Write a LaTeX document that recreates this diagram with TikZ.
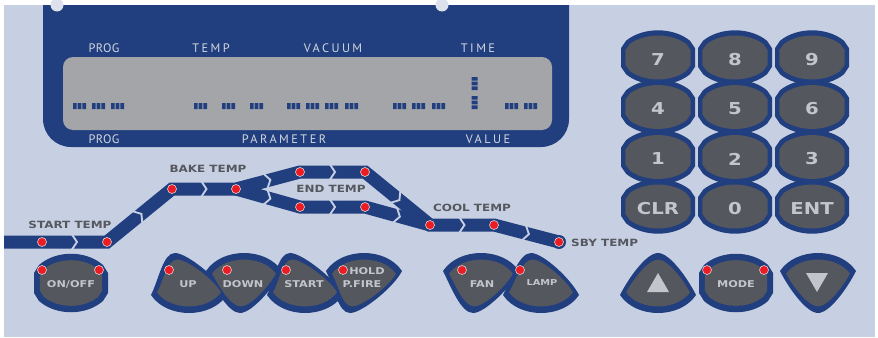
\documentclass[tikz,border=0pt]{standalone}
\usepackage{fontspec}
\usetikzlibrary{backgrounds}
\setmainfont{PT Sans}
\newfontfamily\lcdfont[LetterSpace=20]{PT Sans}
\newfontfamily\lcdtight[LetterSpace=3]{PT Sans}
\newfontfamily\panelfont[FakeStretch=1.2]{DejaVu Sans}

\definecolor{bgpanel}{HTML}{C7D0E3}
\definecolor{panelblue}{HTML}{213F7F}
\definecolor{lcdgray}{HTML}{A4A5A9}
\definecolor{lcdtext}{HTML}{D3D6DE}
\definecolor{keygray}{HTML}{54575D}
\definecolor{keytext}{HTML}{C3C5CA}
\definecolor{pathtext}{HTML}{55585E}
\definecolor{ledred}{HTML}{EC1C24}
\definecolor{ledring}{HTML}{DAD6DA}
\definecolor{notch}{HTML}{DCE1EC}

\begin{document}
\begin{tikzpicture}[
    x=0.03cm, y=-0.03cm,
    lcdlabel/.style={font=\lcdfont\fontsize{10.5pt}{12pt}\selectfont, text=lcdtext, inner sep=0pt},
    proglabel/.style={lcdlabel, font=\lcdtight\fontsize{10.5pt}{12pt}\selectfont},
    steplabel/.style={font=\panelfont\bfseries\fontsize{8.5pt}{10pt}\selectfont, text=pathtext, inner sep=0pt},
    keylabel/.style={font=\panelfont\bfseries\fontsize{14pt}{16pt}\selectfont, text=keytext, inner sep=0pt},
    btnlabel/.style={font=\panelfont\bfseries\fontsize{8pt}{9pt}\selectfont, text=keytext, inner sep=0pt},
    led/.style={circle, fill=ledred, draw=ledring, line width=0.5pt, minimum size=0.27cm, inner sep=0pt},
    band/.style={draw=panelblue, line width=0.39cm, line join=miter},
    chevline/.style={draw=bgpanel, line width=0.055cm, line join=miter},
    outer/.style={fill=panelblue},
    inner/.style={fill=keygray, xscale=.84, yscale=.78},
    pics/keyshape/.style={code={
        \path[pic actions] (-37,-10) -- (-37,10) -- (-32,18) .. controls (-15,33) and (15,33) .. (32,18)
            -- (37,10) -- (37,-10) -- (32,-18) .. controls (15,-33) and (-15,-33) .. (-32,-18) -- cycle;}},
    pics/upshape/.style={code={
        \path[pic actions] (-38,12) .. controls (-30,-4) and (#1-12,-30) .. (#1,-30)
            .. controls (#1+12,-30) and (30,-4) .. (38,12) .. controls (22,36) and (-22,36) .. cycle;}},
    pics/upshape/.default=0,
    pics/downshape/.style={code={
        \path[pic actions] (-38,-12) .. controls (-30,4) and (#1-12,30) .. (#1,30)
            .. controls (#1+12,30) and (30,4) .. (38,-12) .. controls (22,-36) and (-22,-36) .. cycle;}},
    pics/downshape/.default=0,
    pics/segs/.style={code={
        \fill[panelblue] (0,-3) rectangle (3.6,3) (4.7,-3) rectangle (8.3,3) (9.4,-3) rectangle (13,3);}},
    pics/chev/.style={code={\draw[chevline] (-2.5,-7.5) -- (2.5,0) -- (-2.5,7.5);}}
]

% ===== PANEL BACKGROUND =====
\useasboundingbox (0,0) rectangle (878,337);
\begin{scope}[on background layer]
  \fill[white] (0,0) rectangle (878,337);
  \fill[bgpanel] (4,5) rectangle (875,337);
\end{scope}

% ===== DISPLAY =====
\fill[panelblue, rounded corners=0.84cm] (43,-40) rectangle (569,147);
\fill[white] (0,0) rectangle (878,5);
\fill[notch] (57,5) circle (6.5);
\fill[notch] (442,5) circle (6.5);
\fill[lcdgray, rounded corners=0.3cm] (63,57) rectangle (552,130);

% segment groups
\foreach \sx in {73,92,111,194,222,250,287,306,325,345,393,412,432,505,524}
  \pic at (\sx,106) {segs};
\pic[rotate=90] at (474.5,90) {segs};
\pic[rotate=90] at (474.5,109) {segs};

% display labels
\node[proglabel] (prog_top) at (104,48) {PROG};
\node[lcdlabel] (temp_top) at (211,48) {TEMP};
\node[lcdlabel] (vac_top) at (333,48) {VACUUM};
\node[lcdlabel] (time_top) at (478,48) {TIME};
\node[proglabel] (prog_bot) at (104,139) {PROG};
\node[lcdlabel] (param_bot) at (284,139) {PARAMETER};
\node[lcdlabel] (value_bot) at (488,139) {VALUE};

% ===== PROGRAM CURVE =====
\coordinate (s0) at (4,242);
\node[led] (d1) at (42,242) {};
\node[led] (d2) at (107,242) {};
\node[led] (d3) at (172,189) {};
\node[led] (d4) at (236,189) {};
\node[led] (d5) at (300,172) {};
\node[led] (d6) at (300,207) {};
\node[led] (d7) at (365,172) {};
\node[led] (d8) at (365,207) {};
\node[led] (d9) at (430,225) {};
\node[led] (d10) at (494,225) {};
\node[led] (d11) at (559,242) {};

\begin{scope}[on background layer]
  \draw[band] (s0) -- (d1.center) -- (d2.center) -- (d3.center) -- (d4.center) -- (d5.center)
      -- (d7.center) -- (d9.center) -- (d10.center) -- (d11.center);
  \draw[band] (d4.center) -- (d6.center) -- (d8.center) -- (d9.center);
  \fill[panelblue] (d11) circle (7);
  \foreach \a/\b in {d1/d2, d2/d3, d3/d4, d4/d5, d4/d6, d5/d7, d6/d8, d7/d9, d8/d9, d9/d10, d10/d11}
    \path (\a) -- (\b) pic[midway, sloped] {chev};
\end{scope}

\node[steplabel] (start_lbl) at (70,225) {START TEMP};
\node[steplabel] (bake_lbl) at (208,169) {BAKE TEMP};
\node[steplabel] (end_lbl) at (331,189) {END TEMP};
\node[steplabel] (cool_lbl) at (472,208) {COOL TEMP};
\node[steplabel, anchor=west] (sby_lbl) at (571,243) {SBY TEMP};

% ===== KEYPAD =====
\foreach \kx in {658,735,812}
  \foreach \ky in {57.5,107,157,206.5}
    \pic[outer, yscale=.93] at (\kx,\ky) {keyshape};
\foreach \kx in {658,735,812}
  \foreach \ky in {57.5,107,157,206.5}
    \pic[fill=keygray, xscale=.88, yscale=.75] at (\kx,\ky) {keyshape};

\node[keylabel] (k7) at (658,59.5) {7};
\node[keylabel] (k8) at (735,59.5) {8};
\node[keylabel] (k9) at (812,59.5) {9};
\node[keylabel] (k4) at (658,109) {4};
\node[keylabel] (k5) at (735,109) {5};
\node[keylabel] (k6) at (812,109) {6};
\node[keylabel] (k1) at (658,159) {1};
\node[keylabel] (k2) at (735,159) {2};
\node[keylabel] (k3) at (812,159) {3};
\node[keylabel] (kclr) at (658,208.5) {CLR};
\node[keylabel] (k0) at (735,208.5) {0};
\node[keylabel] (kent) at (812,208.5) {ENT};

% ===== BUTTON ROW =====
% outlines first, so neighbouring rims merge
\pic[outer] at (71,283) {keyshape};
\pic[outer] at (189,283) {upshape=-14};
\pic[outer] at (244,283) {downshape=-4};
\pic[outer] at (305,283) {upshape=-15};
\pic[outer] at (364,283) {downshape=-14};
\pic[outer] at (481,283) {downshape=-8};
\pic[outer] at (541,283) {upshape=-10};
\pic[outer] at (658,283) {upshape};
\pic[outer] at (736,283) {keyshape};
\pic[outer] at (818,283) {downshape};

\pic[inner] at (71,283) {keyshape};
\pic[inner] at (189,283) {upshape=-14};
\pic[inner] at (244,283) {downshape=-4};
\pic[inner] at (305,283) {upshape=-15};
\pic[inner] at (364,283) {downshape=-14};
\pic[inner] at (481,283) {downshape=-8};
\pic[inner] at (541,283) {upshape=-10};
\pic[inner] at (658,283) {upshape};
\pic[inner] at (736,283) {keyshape};
\pic[inner] at (818,283) {downshape};

% arrow symbols
\fill[keytext] (647,292) -- (669,292) -- (658,273) -- cycle;
\fill[keytext] (806,273) -- (828,273) -- (817,292) -- cycle;

% button leds
\node[led] (on_l) at (42,270) {};
\node[led] (on_r) at (99,270) {};
\node[led] (up_led) at (169,270) {};
\node[led] (down_led) at (227,270) {};
\node[led] (start_led) at (286,270) {};
\node[led] (hold_led) at (343,270) {};
\node[led] (fan_led) at (462,270) {};
\node[led] (lamp_led) at (520,270) {};
\node[led] (mode_l) at (707,270) {};
\node[led] (mode_r) at (764,270) {};

% button labels
\node[btnlabel] (b_onoff) at (71,284) {ON/OFF};
\node[btnlabel] (b_up) at (188,284) {UP};
\node[btnlabel] (b_down) at (243,284) {DOWN};
\node[btnlabel] (b_start) at (304,284) {START};
\node[btnlabel] (b_hold) at (367,271) {HOLD};
\node[btnlabel] (b_pfire) at (362,284) {P.FIRE};
\node[btnlabel] (b_fan) at (482,284) {FAN};
\node[btnlabel, font=\panelfont\bfseries\fontsize{7pt}{8pt}\selectfont] (b_lamp) at (542,283) {LAMP};
\node[btnlabel] (b_mode) at (736,284) {MODE};

\end{tikzpicture}
\end{document}
